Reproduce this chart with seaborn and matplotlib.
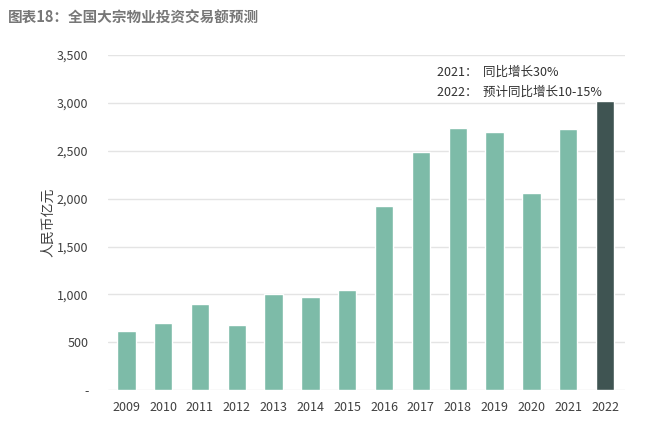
import pandas as pd
import seaborn as sns
import matplotlib.pyplot as plt
from matplotlib.ticker import FuncFormatter

# data
years = ['2009', '2010', '2011', '2012', '2013', '2014', '2015',
         '2016', '2017', '2018', '2019', '2020', '2021', '2022']
volume = [620, 700, 900, 680, 1000, 970, 1050,
          1920, 2490, 2740, 2700, 2060, 2730, 3020]
kind = ['actual'] * 13 + ['forecast']

df = pd.DataFrame({'year': years, 'volume': volume, 'kind': kind})

sns.set_theme(style='white')
plt.rcParams['font.family'] = ['Noto Sans CJK SC', 'DejaVu Sans']

fig = plt.figure(figsize=(6.5, 4.33), dpi=100)
ax = fig.add_axes([0.166, 0.099, 0.796, 0.774])

palette = {'actual': '#7dbba8', 'forecast': '#3f5452'}
sns.barplot(data=df, x='year', y='volume', hue='kind', palette=palette,
            dodge=False, width=0.5, saturation=1, legend=False, ax=ax, zorder=3)

ax.set_ylim(0, 3500)
ax.set_xlim(-0.5, 13.55)
ax.set_yticks(range(0, 3501, 500))
ax.yaxis.set_major_formatter(FuncFormatter(lambda v, p: '-' if v == 0 else f'{int(v):,}'))
ax.grid(axis='y', color='#e4e4e4', linewidth=1, zorder=0)
sns.despine(ax=ax, left=True, bottom=True)
ax.tick_params(axis='both', length=0, labelsize=9, colors='#404040')
ax.tick_params(axis='y', pad=14)
ax.tick_params(axis='x', pad=8)
ax.set_xlabel('')
ax.set_ylabel('人民币亿元', fontsize=10, color='#404040', labelpad=1)

fig.text(0.012, 0.96, '图表18：全国大宗物业投资交易额预测', fontsize=10.5,
         fontweight='bold', color='#777777', va='center')
fig.text(0.672, 0.834, '2021：  同比增长30%', fontsize=9, color='#303030', va='center')
fig.text(0.672, 0.786, '2022：  预计同比增长10-15%', fontsize=9, color='#303030', va='center')

fig.savefig('out.png', dpi=100)
